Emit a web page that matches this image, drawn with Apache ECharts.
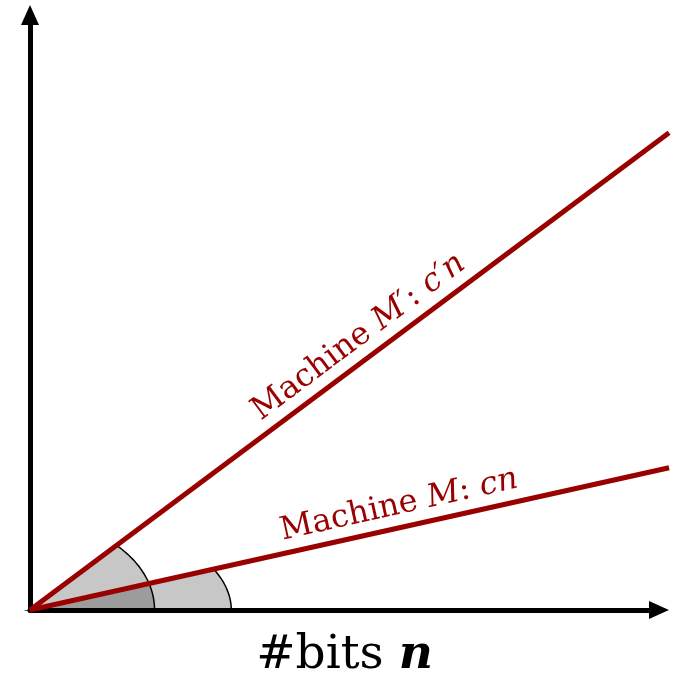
<!DOCTYPE html>
<html>
<head>
<meta charset="utf-8">
<script src="https://cdn.jsdelivr.net/npm/echarts@6/dist/echarts.min.js"></script>
<style>
html, body { margin: 0; padding: 0; background: #fff; }
#chart { width: 677px; height: 686px; }
</style>
</head>
<body>
<div id="chart"></div>
<script>
// 两台机器的运行时间随位数 n 线性增长
const nMax = 10;                 // x轴范围
const yMax = 10;                 // y轴范围
const nEnd = 10.16;              // 两条线画到的 n
const lineCosts = [8.02, 2.39];  // n = nEnd 时的值：M' 和 M
const lineLabels = [
  '{r|Machine }{i|M′}{r|: }{i|c′n}',
  '{r|Machine }{i|M}{r|: }{i|cn}'
];
const labelAt = [0.535, 0.585];  // 标签沿线的位置
const wedgeRx = [1.98, 3.2];     // 角度扇形半径（数据单位）
const wedgeRy = [1.51, 1.68];

const red = '#990000';
const serif = 'DejaVu Serif';

const chart = echarts.init(document.getElementById('chart'));

const axisLine = {
  show: true,
  symbol: ['none', 'triangle'],
  symbolSize: [18, 20],
  lineStyle: { color: '#000', width: 5 }
};

const option = {
  animation: false,
  grid: { left: 30, right: 18, top: 15, bottom: 76 },
  xAxis: {
    type: 'value',
    min: 0,
    max: nMax,
    axisLine: axisLine,
    axisTick: { show: false },
    axisLabel: { show: false },
    splitLine: { show: false },
    name: '{a|#bits }{b|n}',
    nameLocation: 'middle',
    nameGap: 22,
    nameTextStyle: {
      rich: {
        a: { fontFamily: serif, fontSize: 47, color: '#000' },
        b: { fontFamily: serif, fontSize: 47, color: '#000', fontStyle: 'italic', fontWeight: 'bold' }
      }
    }
  },
  yAxis: {
    type: 'value',
    min: 0,
    max: yMax,
    axisLine: axisLine,
    axisTick: { show: false },
    axisLabel: { show: false },
    splitLine: { show: false }
  },
  series: [
    {
      // 角度扇形
      type: 'custom',
      z: 1,
      data: lineCosts.map((c, i) => [wedgeRx[i], wedgeRy[i], c / nEnd]),
      renderItem: function (params, api) {
        const rx = api.value(0), ry = api.value(1), k = api.value(2);
        const tEnd = Math.atan(k * rx / ry);
        const pts = [api.coord([0, 0])];
        const steps = 40;
        for (let s = 0; s <= steps; s++) {
          const t = tEnd * s / steps;
          pts.push(api.coord([rx * Math.cos(t), ry * Math.sin(t)]));
        }
        return {
          type: 'polygon',
          shape: { points: pts },
          style: { fill: 'rgba(0,0,0,0.22)', stroke: '#000', lineWidth: 1.5 }
        };
      }
    },
    {
      // 两条线和标签
      type: 'custom',
      z: 2,
      data: lineCosts.map(c => [nEnd, c]),
      renderItem: function (params, api) {
        const i = params.dataIndex;
        const p0 = api.coord([0, 0]);
        const p1 = api.coord([api.value(0), api.value(1)]);
        const ang = Math.atan2(p0[1] - p1[1], p1[0] - p0[0]);
        const f = labelAt[i];
        const mx = p0[0] + (p1[0] - p0[0]) * f;
        const my = p0[1] + (p1[1] - p0[1]) * f;
        const off = 6;
        return {
          type: 'group',
          children: [
            {
              type: 'line',
              shape: { x1: p0[0], y1: p0[1], x2: p1[0], y2: p1[1] },
              style: { stroke: red, lineWidth: 5 }
            },
            {
              type: 'text',
              x: mx - Math.sin(ang) * off,
              y: my - Math.cos(ang) * off,
              rotation: ang,
              style: {
                text: lineLabels[i],
                align: 'center',
                verticalAlign: 'bottom',
                fill: red,
                rich: {
                  r: { fontFamily: serif, fontSize: 32, fill: red },
                  i: { fontFamily: serif, fontSize: 32, fill: red, fontStyle: 'italic' }
                }
              }
            }
          ]
        };
      }
    }
  ]
};

chart.setOption(option);
</script>
</body>
</html>
